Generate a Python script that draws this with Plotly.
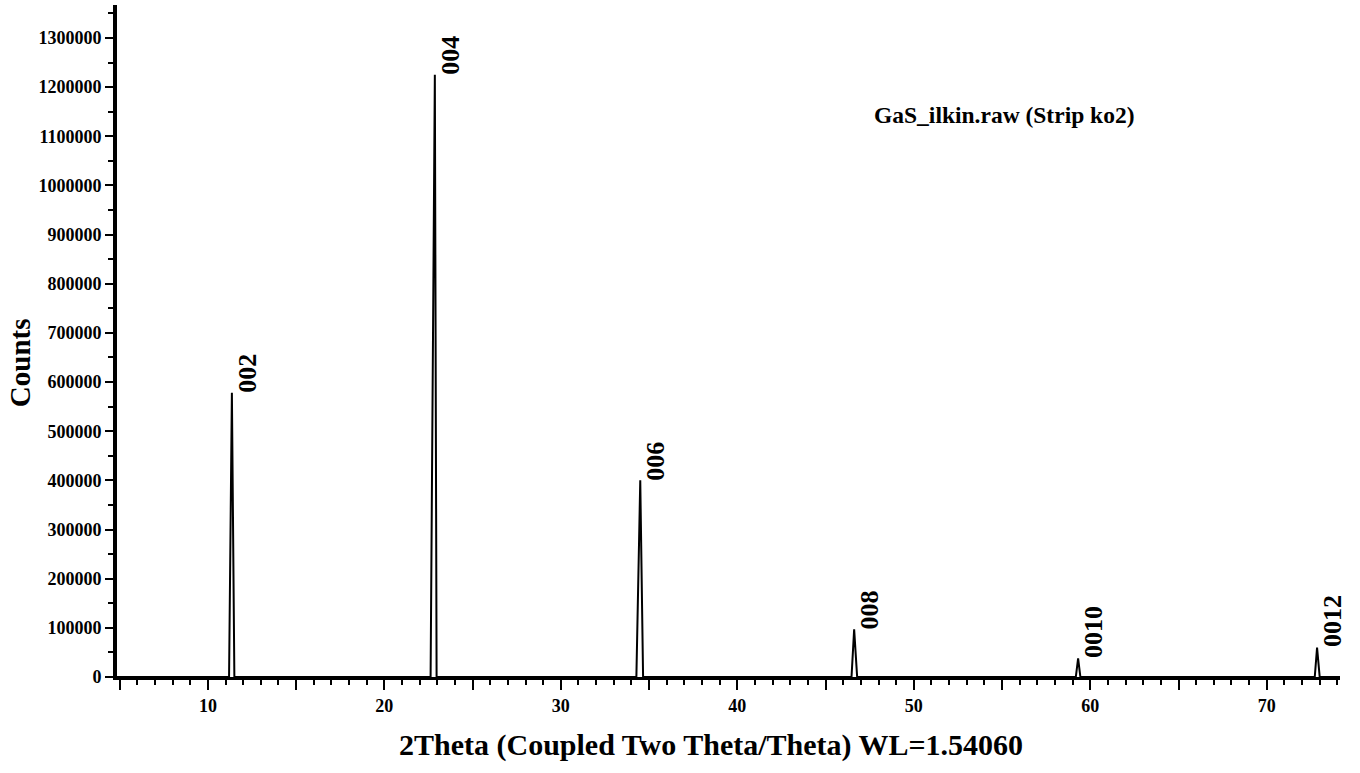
import plotly.graph_objects as go

# ---- data ----
hkl_labels = ["002", "004", "006", "008", "0010", "0012"]
peak_pos = [11.36, 22.86, 34.50, 46.62, 59.31, 72.85]          # 2Theta of apex
peak_start = [11.20, 22.62, 34.28, 46.47, 59.18, 72.72]        # left foot
peak_end = [11.50, 22.96, 34.66, 46.79, 59.44, 73.00]          # right foot
peak_counts = [578000, 1225000, 400000, 97000, 38000, 60000]
scan_start = 4.85
scan_end = 74.15

x_tick_vals = [5, 10, 15, 20, 25, 30, 35, 40, 45, 50, 55, 60, 65, 70]
x_tick_text = ["", "10", "", "20", "", "30", "", "40", "", "50", "", "60", "", "70"]
y_tick_vals = [0, 100000, 200000, 300000, 400000, 500000, 600000, 700000,
               800000, 900000, 1000000, 1100000, 1200000, 1300000]
y_tick_text = [str(v) for v in y_tick_vals]

# build the trace from the peak lists
xs = [scan_start]
ys = [0]
for a, p, b, h in zip(peak_start, peak_pos, peak_end, peak_counts):
    xs += [a, p, b]
    ys += [0, h, 0]
xs.append(scan_end)
ys.append(0)

FONT = "Liberation Serif"

fig = go.Figure()
fig.add_trace(go.Scatter(x=xs, y=ys, mode="lines",
                         line=dict(color="black", width=2), hoverinfo="skip",
                         showlegend=False))

for lab, p, h in zip(hkl_labels, peak_pos, peak_counts):
    fig.add_annotation(x=p, y=h, xref="x", yref="y", text=lab, showarrow=False,
                       textangle=-90, xanchor="left", yanchor="bottom",
                       xshift=-1, yshift=-2,
                       font=dict(family=FONT, size=26, color="black", weight="bold"))

fig.add_annotation(x=0.4857, y=-0.101, xref="paper", yref="paper",
                   text="2Theta (Coupled Two Theta/Theta) WL=1.54060", showarrow=False,
                   xanchor="center", yanchor="middle",
                   font=dict(family=FONT, size=30, color="black", weight="bold"))
fig.add_annotation(x=-0.0793, y=0.467, xref="paper", yref="paper",
                   text="Counts", showarrow=False, textangle=-90,
                   xanchor="center", yanchor="middle",
                   font=dict(family=FONT, size=29, color="black", weight="bold"))
fig.add_annotation(x=0.726, y=0.836, xref="paper", yref="paper",
                   text="GaS_ilkin.raw (Strip ko2)", showarrow=False,
                   xanchor="center", yanchor="middle",
                   font=dict(family=FONT, size=23.5, color="black", weight="bold"))

fig.update_layout(
    width=1360, height=773,
    margin=dict(l=117, r=20, t=5, b=96),
    paper_bgcolor="white", plot_bgcolor="white",
    xaxis=dict(range=[scan_start, scan_end], showgrid=False, zeroline=False,
               showline=True, linecolor="black", linewidth=3,
               tickmode="array", tickvals=x_tick_vals, ticktext=x_tick_text,
               ticks="outside", ticklen=10, tickwidth=2, tickcolor="black",
               minor=dict(dtick=1, tick0=0, ticks="outside", ticklen=5,
                          tickwidth=2, tickcolor="black", showgrid=False),
               tickfont=dict(family=FONT, size=18, color="black", weight="bold")),
    yaxis=dict(range=[0, 1367000], showgrid=False, zeroline=False,
               showline=True, linecolor="black", linewidth=4,
               tickmode="array", tickvals=y_tick_vals, ticktext=y_tick_text,
               ticks="outside", ticklen=8, tickwidth=2, tickcolor="black",
               minor=dict(dtick=50000, tick0=0, ticks="outside", ticklen=5,
                          tickwidth=2, tickcolor="black", showgrid=False),
               tickfont=dict(family=FONT, size=18, color="black", weight="bold")),
)

fig.write_html("out.html")
